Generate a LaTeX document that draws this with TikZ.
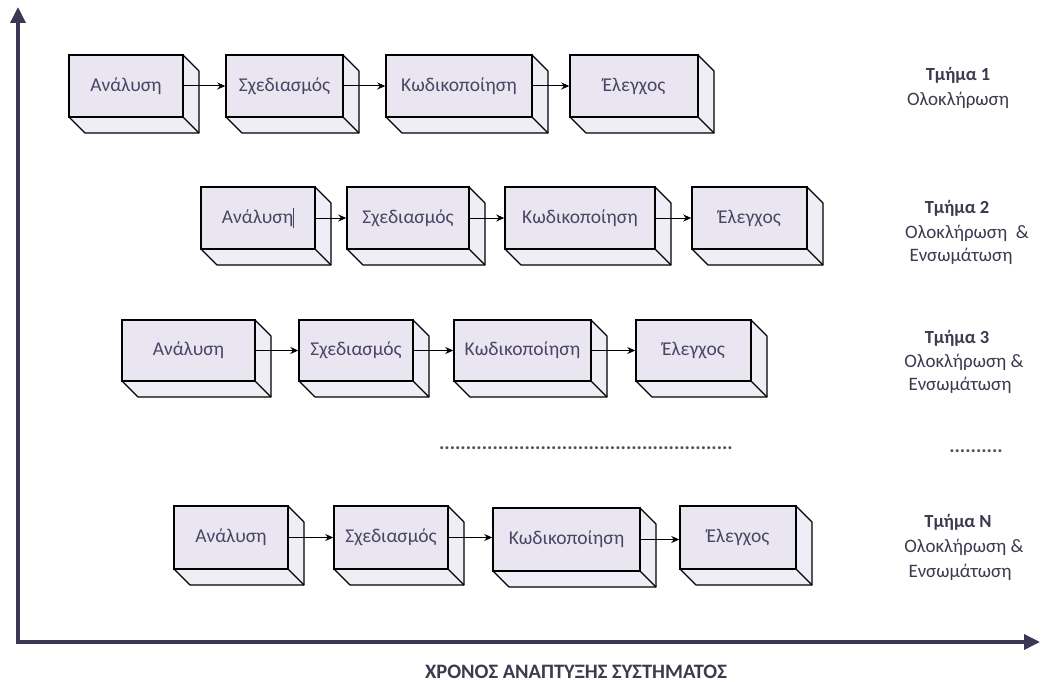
\documentclass[tikz,border=0pt]{standalone}
\usepackage{fontspec}
\setmainfont{Carlito}
\usetikzlibrary{arrows.meta}

\definecolor{axiscol}{HTML}{3D3657}
\definecolor{facecol}{HTML}{E9E6F1}
\definecolor{sidecol}{HTML}{EFEDF5}
\definecolor{boxtext}{HTML}{4A4563}
\definecolor{labeltext}{HTML}{3B3A4E}

\tikzset{
  frontface/.style={draw=black, line width=1.5pt, fill=facecol, inner sep=0pt,
    font=\fontsize{19.5}{22}\selectfont, text=boxtext},
  depthface/.style={fill=sidecol, draw=black, line width=1.1pt, line join=round},
  flow/.style={-{Stealth[length=8pt,width=7pt]}, line width=1pt, black},
  timeaxis/.style={line width=3.5pt, axiscol, line join=miter,
    {Triangle[length=16pt,width=15pt]}-{Triangle[length=16pt,width=15pt]}},
  parthead/.style={font=\bfseries\fontsize{18.5}{21}\selectfont, text=labeltext},
  partnote/.style={font=\fontsize{19}{21}\selectfont, text=labeltext},
  dots/.style={font=\bfseries\fontsize{20}{22}\selectfont, text=labeltext!90},
}

\def\cubedepth{16}
% #1 name, #2 x1, #3 y1, #4 x2, #5 y2 (front face), #6 text
\newcommand\cubebox[6]{%
  \path[depthface] (#4,#3) -- ++(\cubedepth,\cubedepth) -- (#4+\cubedepth,#5+\cubedepth)
     -- (#2+\cubedepth,#5+\cubedepth) -- (#2,#5) -- cycle;
  \draw[line width=1.1pt] (#4,#5) -- ++(\cubedepth,\cubedepth);
  \node[frontface, minimum width={(#4-#2)*1pt}, minimum height={(#5-#3)*1pt}]
     (#1) at ({(#2+#4)/2},{(#3+#5)/2}) {#6};
}

\begin{document}
\begin{tikzpicture}[x=1pt, y=-1pt]
\useasboundingbox (0,0) rectangle (1041,682);

% time axes
\coordinate (ytip) at (18,7);
\coordinate (origin) at (18,642);
\coordinate (xtip) at (1040,642);
\draw[timeaxis] (ytip) -- (origin) -- (xtip);
\node[font=\bfseries\fontsize{20.5}{23}\selectfont, text=labeltext] (xlabel) at (576,672)
  {ΧΡΟΝΟΣ ΑΝΑΠΤΥΞΗΣ ΣΥΣΤΗΜΑΤΟΣ};

% part 1
\cubebox{a1}{69}{55}{183}{117}{Ανάλυση}
\cubebox{s1}{226}{55}{343}{117}{Σχεδιασμός}
\cubebox{k1}{386}{55}{532}{117}{Κωδικοποίηση}
\cubebox{e1}{570}{55}{698}{117}{Έλεγχος}
\draw[flow] (a1.east) -- (s1.west);
\draw[flow] (s1.east) -- (k1.west);
\draw[flow] (k1.east) -- (e1.west);

% part 2
\cubebox{a2}{201}{187}{315}{249}{Ανάλυση\rule[-0.2em]{0.9pt}{1em}}
\cubebox{s2}{347}{187}{469}{249}{Σχεδιασμός}
\cubebox{k2}{505}{187}{655}{249}{Κωδικοποίηση}
\cubebox{e2}{692}{187}{807}{249}{Έλεγχος}
\draw[flow] (a2.east) -- (s2.west);
\draw[flow] (s2.east) -- (k2.west);
\draw[flow] (k2.east) -- (e2.west);

% part 3
\cubebox{a3}{122}{320}{255}{381}{Ανάλυση}
\cubebox{s3}{299}{320}{413}{381}{Σχεδιασμός}
\cubebox{k3}{454}{320}{591}{381}{Κωδικοποίηση}
\cubebox{e3}{636}{320}{751}{381}{Έλεγχος}
\draw[flow] (a3.east) -- (s3.west);
\draw[flow] (s3.east) -- (k3.west);
\draw[flow] (k3.east) -- (e3.west);

% ellipsis between parts
\node[dots] (gap) at (586,448) {.......................................................};
\node[dots] (gapnote) at (976,451) {..........};

% part N
\cubebox{a4}{174}{506}{288}{569}{Ανάλυση}
\cubebox{s4}{334}{506}{448}{569}{Σχεδιασμός}
\cubebox{k4}{493}{508}{640}{571}{Κωδικοποίηση}
\cubebox{e4}{680}{506}{796}{569}{Έλεγχος}
\draw[flow] (a4.east) -- (s4.west);
\draw[flow] (s4.east) -- (s4.east -| k4.west);
\draw[flow] (k4.east) -- (k4.east -| e4.west);

% part labels
\node[parthead] (t1) at (958,75) {Τμήμα 1};
\node[partnote] (n1) at (958,100) {Ολοκλήρωση};
\node[parthead] (t2) at (957,208) {Τμήμα 2};
\node[partnote] (n2) at (967,233) {Ολοκλήρωση \ \&};
\node[partnote] (m2) at (961,256) {Ενσωμάτωση};
\node[parthead] (t3) at (957,338) {Τμήμα 3};
\node[partnote] (n3) at (964,362) {Ολοκλήρωση \&};
\node[partnote] (m3) at (960,385) {Ενσωμάτωση};
\node[parthead] (t4) at (958,522) {Τμήμα Ν};
\node[partnote] (n4) at (964,547) {Ολοκλήρωση \&};
\node[partnote] (m4) at (960,572) {Ενσωμάτωση};
\end{tikzpicture}
\end{document}
